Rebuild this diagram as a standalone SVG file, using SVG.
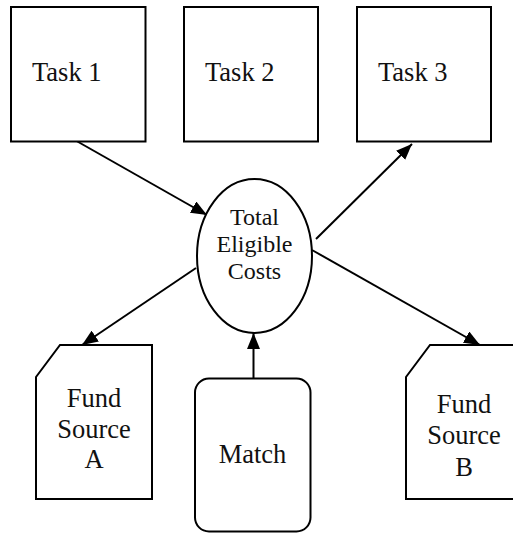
<svg xmlns="http://www.w3.org/2000/svg" width="513" height="533" viewBox="0 0 513 533">
  <style>
    .shape { fill: #ffffff; stroke: #000000; stroke-width: 2; }
    .label { font-family: "Liberation Serif", "Times New Roman", serif; font-size: 26.5px; fill: #111111; }
    .small { font-size: 24px; }
    .mid { text-anchor: middle; }
    .conn { fill: none; stroke: #000000; stroke-width: 2; marker-end: url(#arrow); }
  </style>
  <defs>
    <marker id="arrow" markerUnits="userSpaceOnUse" markerWidth="17" markerHeight="13" refX="16" refY="6.5" orient="auto">
      <path d="M0,0 L16,6.5 L0,13 z" fill="#000000"/>
    </marker>
  </defs>

  <rect width="513" height="533" fill="#ffffff"/>

  <!-- connectors -->
  <g id="connectors">
    <line class="conn" x1="73" y1="139" x2="207" y2="215"/>
    <line class="conn" x1="316" y1="239" x2="412" y2="144"/>
    <line class="conn" x1="196" y1="268" x2="82" y2="345"/>
    <line class="conn" x1="312" y1="250" x2="480" y2="345"/>
    <line class="conn" x1="253.5" y1="378" x2="253.5" y2="333"/>
  </g>

  <g id="task1">
    <rect class="shape" x="11" y="7" width="134.5" height="134.5"/>
    <text class="label" x="32" y="81">Task 1</text>
  </g>
  <g id="task2">
    <rect class="shape" x="184" y="7" width="134" height="134.5"/>
    <text class="label" x="205" y="81">Task 2</text>
  </g>
  <g id="task3">
    <rect class="shape" x="357" y="7" width="134" height="134.5"/>
    <text class="label" x="378" y="81">Task 3</text>
  </g>

  <g id="total-eligible-costs">
    <ellipse class="shape" cx="254.5" cy="256" rx="57.5" ry="77"/>
    <text class="label small mid" x="254.5" y="225">Total</text>
    <text class="label small mid" x="254.5" y="252">Eligible</text>
    <text class="label small mid" x="254.5" y="279">Costs</text>
  </g>

  <g id="fund-source-a">
    <polygon class="shape" points="60,345 152,345 152,499 36,499 36,377"/>
    <text class="label mid" x="94" y="407">Fund</text>
    <text class="label mid" x="94" y="437.5">Source</text>
    <text class="label mid" x="94" y="468">A</text>
  </g>

  <g id="match">
    <rect class="shape" x="195" y="378.5" width="115.5" height="153" rx="14" ry="14"/>
    <text class="label mid" x="252.5" y="463">Match</text>
  </g>

  <g id="fund-source-b">
    <polygon class="shape" points="430,345 522,345 522,499 406,499 406,377"/>
    <text class="label mid" x="464" y="413">Fund</text>
    <text class="label mid" x="464" y="444">Source</text>
    <text class="label mid" x="464" y="475.5">B</text>
  </g>
</svg>
